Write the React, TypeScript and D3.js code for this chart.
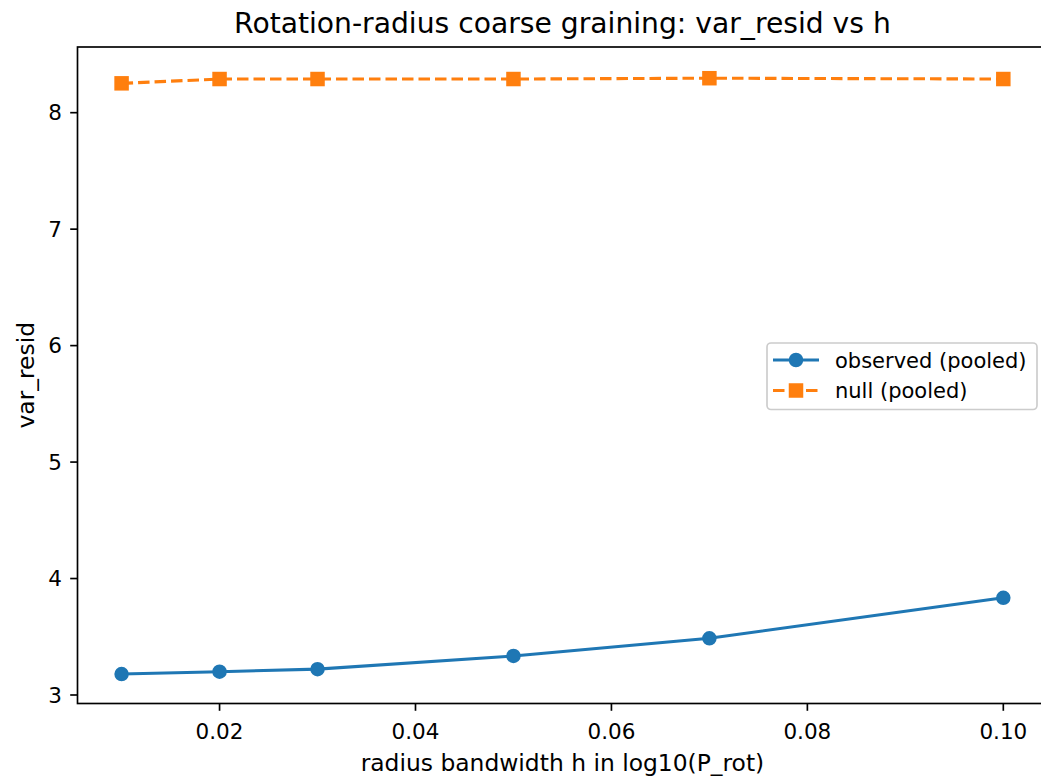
import React from "react";
import * as d3 from "d3";

const hValues = [0.01, 0.02, 0.03, 0.05, 0.07, 0.1];
const observedPooled = [3.18, 3.2, 3.222, 3.335, 3.487, 3.835];
const nullPooled = [8.252, 8.289, 8.289, 8.289, 8.296, 8.289];
const xTicks = [0.02, 0.04, 0.06, 0.08, 0.1];
const yTicks = [3, 4, 5, 6, 7, 8];
const seriesNames = ["observed (pooled)", "null (pooled)"];
const titleText = "Rotation-radius coarse graining: var_resid vs h";
const xLabelText = "radius bandwidth h in log10(P_rot)";
const yLabelText = "var_resid";
const xDomain = [0.0055, 0.1045];
const yDomain = [2.927, 8.564];

const W = 1041;
const H = 781;
const FONT = "DejaVu Sans, sans-serif";
const BLUE = "#1f77b4";
const ORANGE = "#ff7f0e";

export default function App() {
  const left = 77.5;
  const right = 1047.4;
  const top = 47;
  const bottom = 703.5;

  const x = d3.scaleLinear().domain(xDomain).range([left, right]);
  const y = d3.scaleLinear().domain(yDomain).range([bottom, top]);

  const line = d3
    .line<number>()
    .x((_, i) => x(hValues[i]))
    .y((d) => y(d));

  const lw = 3.1;
  const ms = 12.5;
  const tickFs = 21.5;
  const labelFs = 23.4;
  const legFs = 21;

  const legX = 767;
  const legY = 343;
  const legW = 270;
  const legH = 66.5;
  const row1 = 360;
  const row2 = 390.5;

  return (
    <div style={{ position: "absolute", left: 0, top: 0 }}>
      <svg width={W} height={H} style={{ display: "block", background: "#fff" }} fontFamily={FONT}>
        <rect x={0} y={0} width={W} height={H} fill="#fff" />
        <text x={(left + right) / 2} y={33} textAnchor="middle" fontSize={28.2} fill="#000">
          {titleText}
        </text>

        {/* data lines */}
        <path d={line(observedPooled) || ""} fill="none" stroke={BLUE} strokeWidth={lw} strokeLinejoin="round" strokeLinecap="round" />
        <path d={line(nullPooled) || ""} fill="none" stroke={ORANGE} strokeWidth={lw} strokeDasharray="11.5,5" />
        {observedPooled.map((v, i) => (
          <circle key={"o" + i} cx={x(hValues[i])} cy={y(v)} r={ms / 2} fill={BLUE} stroke={BLUE} strokeWidth={2} />
        ))}
        {nullPooled.map((v, i) => (
          <rect
            key={"n" + i}
            x={x(hValues[i]) - ms / 2}
            y={y(v) - ms / 2}
            width={ms}
            height={ms}
            fill={ORANGE}
            stroke={ORANGE}
            strokeWidth={2}
          />
        ))}

        {/* frame */}
        <rect x={left} y={top} width={right - left} height={bottom - top} fill="none" stroke="#000" strokeWidth={1.67} />

        {/* x ticks */}
        {xTicks.map((t) => (
          <g key={"x" + t}>
            <line x1={x(t)} x2={x(t)} y1={bottom} y2={bottom + 7.3} stroke="#000" strokeWidth={1.67} />
            <text x={x(t)} y={739} textAnchor="middle" fontSize={tickFs} fill="#000">
              {t.toFixed(2)}
            </text>
          </g>
        ))}
        {/* y ticks */}
        {yTicks.map((t) => (
          <g key={"y" + t}>
            <line x1={left - 7.3} x2={left} y1={y(t)} y2={y(t)} stroke="#000" strokeWidth={1.67} />
            <text x={62} y={y(t)} dy="0.36em" textAnchor="end" fontSize={tickFs} fill="#000">
              {t}
            </text>
          </g>
        ))}

        <text x={(left + right) / 2} y={771} textAnchor="middle" fontSize={labelFs} fill="#000">
          {xLabelText}
        </text>
        <text transform={`translate(34,${(top + bottom) / 2}) rotate(-90)`} textAnchor="middle" fontSize={labelFs} fill="#000">
          {yLabelText}
        </text>

        {/* legend */}
        <rect x={legX} y={legY} width={legW} height={legH} rx={4} fill="#fff" fillOpacity={0.8} stroke="#cccccc" strokeWidth={1.67} />
        <line x1={773} x2={819} y1={row1} y2={row1} stroke={BLUE} strokeWidth={lw} />
        <circle cx={796} cy={row1} r={ms / 2} fill={BLUE} stroke={BLUE} strokeWidth={2} />
        <text x={835} y={row1} dy="0.36em" fontSize={legFs} fill="#000">
          {seriesNames[0]}
        </text>
        <line x1={773} x2={819} y1={row2} y2={row2} stroke={ORANGE} strokeWidth={lw} strokeDasharray="11.5,5" />
        <rect x={796 - ms / 2} y={row2 - ms / 2} width={ms} height={ms} fill={ORANGE} stroke={ORANGE} strokeWidth={2} />
        <text x={835} y={row2} dy="0.36em" fontSize={legFs} fill="#000">
          {seriesNames[1]}
        </text>
      </svg>
    </div>
  );
}
